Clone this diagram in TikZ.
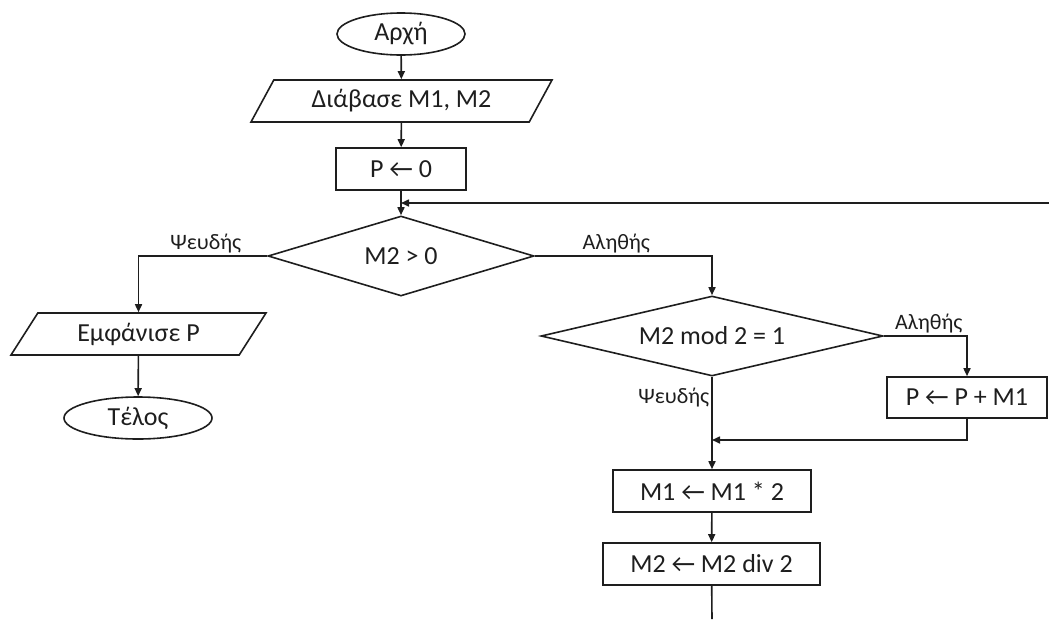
\documentclass[tikz,border=0pt]{standalone}
\usepackage{fontspec}
\setmainfont{Carlito}
\usetikzlibrary{shapes.geometric,arrows.meta}
\definecolor{ink}{HTML}{1E1E1E}
\tikzset{
  base/.style={draw=ink,line width=1.6pt,inner sep=0pt,text=ink,font=\fontsize{26}{30}\selectfont},
  term/.style={base,ellipse},
  io/.style={base,trapezium,trapezium stretches body=true},
  proc/.style={base,rectangle},
  dec/.style={base,diamond},
  conn/.style={draw=ink,line width=1.6pt},
  arr/.style={conn,-{Triangle[length=8pt,width=7pt]}},
  lbl/.style={text=ink,font=\fontsize{22}{26}\selectfont,inner sep=2pt}
}
\begin{document}
\begin{tikzpicture}[x=1pt,y=-1pt]
\useasboundingbox (0,0) rectangle (1049,619);
% nodes
\node[term,minimum width=128pt,minimum height=42pt] (start) at (401,34) {Αρχή};
\node[io,trapezium left angle=45,trapezium right angle=135,minimum width=301pt,minimum height=42pt] (read) at (401.5,101) {Διάβασε M1, M2};
\node[proc,minimum width=130pt,minimum height=42pt] (init) at (401,169) {P ← 0};
\node[dec,aspect=3.3,minimum width=266pt,minimum height=80pt] (cond1) at (401,256) {M2 > 0};
\node[io,trapezium left angle=40,trapezium right angle=140,minimum width=255pt,minimum height=42pt] (out) at (138.5,334) {Εμφάνισε P};
\node[term,minimum width=148pt,minimum height=42pt] (stop) at (138,418) {Τέλος};
\node[dec,aspect=4.3,minimum width=342pt,minimum height=80pt] (cond2) at (712,336) {M2 mod 2 = 1};
\node[proc,minimum width=160pt,minimum height=41pt] (padd) at (967,397.5) {P ← P + M1};
\node[proc,minimum width=198pt,minimum height=42pt] (dbl) at (712,491) {M1 ← M1 * 2};
\node[proc,minimum width=217pt,minimum height=42pt] (half) at (711.5,564) {M2 ← M2 div 2};
% free ends
\coordinate (loopR) at (1049,203);
\coordinate (loopL) at (401,203);
\coordinate (join) at (712,440);
\coordinate (down) at (712,619);
% connectors
\draw[arr] (start) -- (read);
\draw[arr] (read) -- (init);
\draw[arr] (init) -- (cond1);
\draw[arr] (loopR) -- (loopL);
\draw[arr] (cond1.west) -| node[lbl,pos=0.09,anchor=south east] (lf1) {Ψευδής} (out.north);
\draw[arr] (cond1.east) -| node[lbl,pos=0.23,anchor=south] (lt1) {Αληθής} (cond2.north);
\draw[arr] (out) -- (stop);
\draw[arr] (cond2.east) -| node[lbl,pos=0.27,anchor=south] (lt2) {Αληθής} (padd.north);
\draw[arr] (cond2.south) -- node[lbl,pos=0.22,anchor=east] (lf2) {Ψευδής} (dbl.north);
\draw[arr] (padd.south) |- (join);
\draw[arr] (dbl) -- (half);
\draw[conn] (half) -- (down);
\end{tikzpicture}
\end{document}
